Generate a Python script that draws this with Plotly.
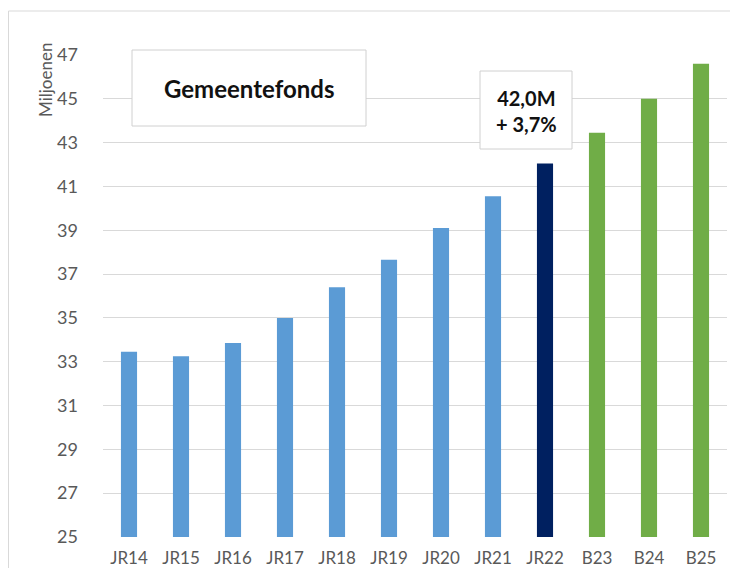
import plotly.graph_objects as go

# Gemeentefonds per jaar (miljoenen)
jaren = ['JR14', 'JR15', 'JR16', 'JR17', 'JR18', 'JR19', 'JR20', 'JR21',
         'JR22', 'B23', 'B24', 'B25']
bedragen = [33.45, 33.25, 33.85, 35.0, 36.4, 37.65, 39.1, 40.55,
            42.05, 43.45, 45.0, 46.6]
soort = ['jr'] * 8 + ['huidig'] + ['begroting'] * 3

kleuren = {'jr': '#5B9BD5', 'huidig': '#002060', 'begroting': '#70AD47'}

y_ticks = list(range(25, 48, 2))

# de pagina zet 8px marge rond de figuur; figuur moet binnen het venster passen
OFF = 8
W, H = 738 - 2 * OFF, 576 - 2 * OFF
L, T = 103 - OFF, 55 - OFF
R = W - (727 - OFF)
B = H - (537 - OFF)
pw, ph = W - L - R, H - T - B

def px(x):
    # x in paginapixels -> paper
    return (x - OFF - L) / pw

def py(y):
    return (H - B - (y - OFF)) / ph

FONT = 'Lato, Open Sans, sans-serif'

fig = go.Figure()
fig.add_trace(go.Bar(
    x=jaren, y=bedragen,
    marker=dict(color=[kleuren[s] for s in soort], line=dict(width=0)),
    width=0.31, base=0,
))

fig.update_layout(
    width=W, height=H,
    margin=dict(l=L, r=R, t=T, b=B, autoexpand=False),
    plot_bgcolor='white', paper_bgcolor='white',
    showlegend=False,
    font=dict(family=FONT, color='#595959', size=16),
    xaxis=dict(showgrid=False, showline=False, ticks='', ticklabelstandoff=9,
               automargin=False,
               tickfont=dict(size=17, color='#595959')),
    yaxis=dict(range=[25, 47], tickvals=y_ticks, showgrid=True,
               gridcolor='#D9D9D9', gridwidth=1, zeroline=False,
               showline=False, ticks='', ticklabelstandoff=24,
               automargin=False,
               tickfont=dict(size=18, color='#595959')),
)

# buitenrand (alleen links en boven zichtbaar)
rand = dict(color='#D9D9D9', width=1)
fig.add_shape(type='line', xref='paper', yref='paper',
              x0=px(8.5), x1=px(8.5), y0=py(600), y1=py(11), line=rand)
fig.add_shape(type='line', xref='paper', yref='paper',
              x0=px(8.5), x1=px(760), y0=py(11), y1=py(11), line=rand)

# titelvak
fig.add_shape(type='rect', xref='paper', yref='paper',
              x0=px(132), x1=px(366), y0=py(126), y1=py(50),
              line=dict(color='#D0D0D0', width=1), fillcolor='white')
fig.add_annotation(text='<b>Gemeentefonds</b>', xref='paper', yref='paper',
                   x=px(249), y=py(88), xanchor='center', yanchor='middle',
                   showarrow=False,
                   font=dict(size=24, color='#111111', family=FONT))

# vak met stijging
fig.add_shape(type='rect', xref='paper', yref='paper',
              x0=px(480), x1=px(572), y0=py(149), y1=py(71),
              line=dict(color='#D0D0D0', width=1), fillcolor='white')
fig.add_annotation(text='<b>42,0M<br>+ 3,7%</b>', xref='paper', yref='paper',
                   x=px(526), y=py(111), xanchor='center', yanchor='middle',
                   showarrow=False,
                   font=dict(size=20, color='#111111', family=FONT))

# y-as titel
fig.add_annotation(text='Miljoenen', xref='paper', yref='paper',
                   x=px(45), y=py(80), xanchor='center', yanchor='middle',
                   textangle=-90, showarrow=False,
                   font=dict(size=17, color='#595959', family=FONT))

fig.write_html("out.html")
